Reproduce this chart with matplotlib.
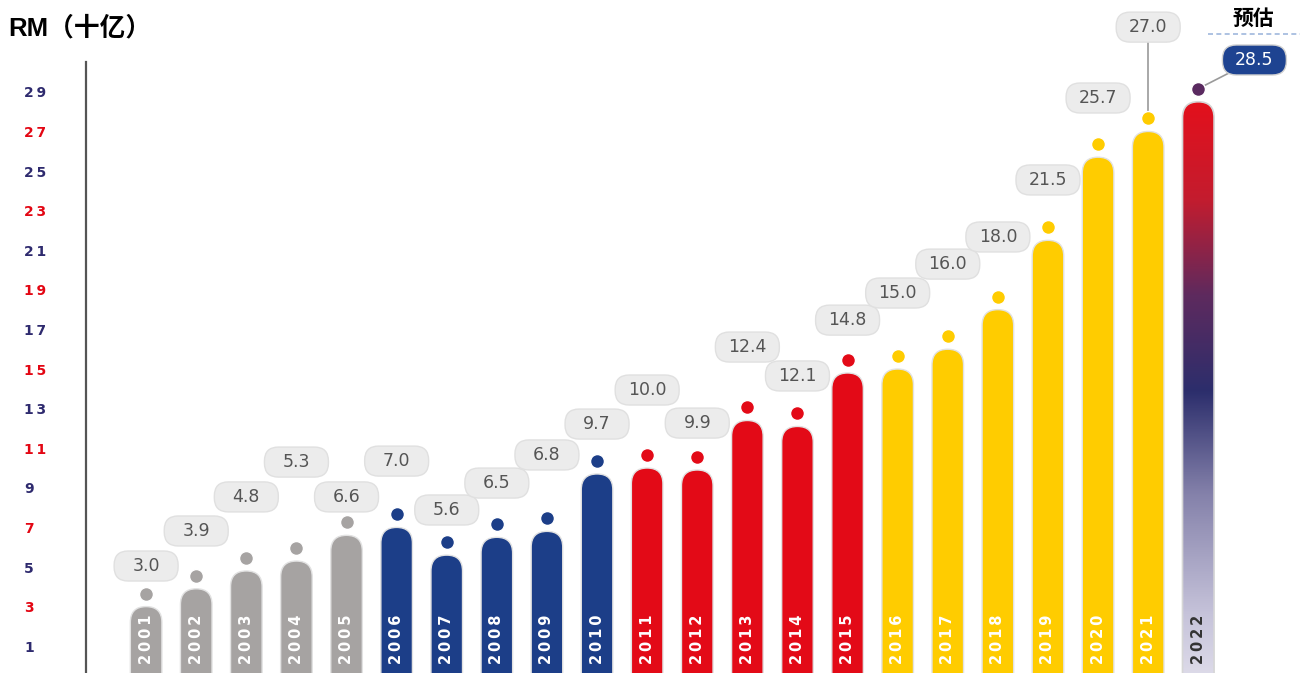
import numpy as np
import matplotlib.pyplot as plt
from matplotlib.patches import FancyBboxPatch
from matplotlib.colors import LinearSegmentedColormap

# data
years = ['2001', '2002', '2003', '2004', '2005', '2006', '2007', '2008', '2009', '2010', '2011',
         '2012', '2013', '2014', '2015', '2016', '2017', '2018', '2019', '2020', '2021', '2022']
values = [3.0, 3.9, 4.8, 5.3, 6.6, 7.0, 5.6, 6.5, 6.8, 9.7, 10.0,
          9.9, 12.4, 12.1, 14.8, 15.0, 16.0, 18.0, 21.5, 25.7, 27.0, 28.5]
groups = ['grey'] * 5 + ['navy'] * 5 + ['red'] * 5 + ['yellow'] * 6 + ['forecast']
yticks = list(range(1, 30, 2))

# layout: where each value label sits relative to its bar top
label_dy = [2.05, 2.92, 3.74, 5.0, 1.94, 3.35, 2.28, 2.74, 3.86, 2.52, 3.94,
            2.37, 3.71, 2.55, 2.67, 3.84, 4.30, 3.67, 3.05, 2.99, 5.27, 2.11]
label_dx = [0] * 21 + [1.12]
leader = [False] * 20 + [True, True]

colors = {'grey': '#a6a3a2', 'navy': '#1c3e88', 'red': '#e30a17',
          'yellow': '#ffcc00', 'forecast': '#5a2a60'}
NAVY = '#2e2a6e'
RED = '#e30613'

W, H = 1300, 673
fig = plt.figure(figsize=(W / 100, H / 100), dpi=100)
left_px = 86
ax = fig.add_axes([left_px / W, 0, 1 - left_px / W, 1])
xlim = (-1.2, 23.03)
ylim = (-0.354, 33.64)
px_x = (W - left_px) / (xlim[1] - xlim[0])
px_y = H / (ylim[1] - ylim[0])
asp = px_x / px_y

bw = 0.63
x = np.arange(len(years))

grad = LinearSegmentedColormap.from_list('fc', [
    (0.0, '#e8e6f0'), (0.15, '#c6c3da'), (0.35, '#8481aa'), (0.52, '#2c2e6c'),
    (0.68, '#5e2a5e'), (0.84, '#c41c2e'), (1.0, '#e3101c')])

for i, (yr, v, g) in enumerate(zip(years, values, groups)):
    if g == 'forecast':
        bar = FancyBboxPatch((x[i] - bw / 2, -2), bw, v + 2,
                             boxstyle=f'round,pad=0,rounding_size={bw / 2}',
                             mutation_aspect=asp, fc='none', ec='#d6d6d6', lw=1.2, zorder=2)
        ax.add_patch(bar)
        im = ax.imshow(np.linspace(0, 1, 256).reshape(-1, 1), cmap=grad, origin='lower',
                       extent=[x[i] - bw / 2, x[i] + bw / 2, -2, v], aspect='auto', zorder=1.5)
        im.set_clip_path(bar)
        ycol = '#333333'
    else:
        bar = FancyBboxPatch((x[i] - bw / 2, -2), bw, v + 2,
                             boxstyle=f'round,pad=0,rounding_size={bw / 2}',
                             mutation_aspect=asp, fc=colors[g], ec='#e2e2e2', lw=1, zorder=2)
        ax.add_patch(bar)
        ycol = 'white'
    ax.text(x[i], 0.1, '\u2009'.join(yr), rotation=90, ha='center', va='bottom',
            color=ycol, fontsize=10.5, fontweight='bold', zorder=3)

    dot_y = v + 0.66
    ax.scatter(x[i], dot_y, s=100, color=colors[g], edgecolor='white', linewidth=1, zorder=4)

    lx, ly = x[i] + label_dx[i], v + label_dy[i]
    if leader[i]:
        ax.plot([x[i], lx], [dot_y, ly], color='#9a9a9a', lw=1.2, zorder=2.5)
    lw_box, lh_box = 64 / px_x, 30 / px_y
    if g == 'forecast':
        fc, ec, tc = '#1e4391', '#d0d0d0', 'white'
    else:
        fc, ec, tc = '#ececec', '#e0e0e0', '#555555'
    box = FancyBboxPatch((lx - lw_box / 2, ly - lh_box / 2), lw_box, lh_box,
                         boxstyle=f'round,pad=0,rounding_size={14 / px_x}',
                         mutation_aspect=asp, fc=fc, ec=ec, lw=1, zorder=5, clip_on=False)
    ax.add_patch(box)
    ax.text(lx, ly, f'{v:.1f}', ha='center', va='center', color=tc, fontsize=12.5, zorder=6)

ax.set_xlim(*xlim)
ax.set_ylim(*ylim)
ax.set_xticks([])
ax.set_yticks(yticks)
ax.set_yticklabels(['\u2009'.join(str(t)) for t in yticks], fontsize=10, fontweight='bold')
ax.tick_params(axis='y', length=0, pad=(left_px - 24) * 0.72)
for t, lab in zip(yticks, ax.get_yticklabels()):
    lab.set_ha('left')
    lab.set_color(NAVY if ((t - 1) // 2) % 2 == 0 else RED)

for s in ['top', 'right', 'bottom']:
    ax.spines[s].set_visible(False)
ax.spines['left'].set_bounds(ylim[0], 30.5)
ax.spines['left'].set_color('#555555')
ax.spines['left'].set_linewidth(1.6)
ax.patch.set_alpha(0)

cjk = ['Noto Sans CJK SC', 'DejaVu Sans']
fig.text(8 / W, 1 - 28 / H, 'RM（十亿）', family=['Liberation Sans', 'Noto Sans CJK SC'],
         fontweight='bold', fontsize=18.5, ha='left', va='center')
fig.text(1253 / W, 1 - 18 / H, '预估', family=cjk, fontweight='bold', fontsize=15,
         ha='center', va='center')
fig.add_artist(plt.Line2D([1208 / W, 1.0], [1 - 34 / H, 1 - 34 / H], color='#9fb8dd',
                          lw=1.2, ls=(0, (3, 2))))

fig.savefig('out.png', dpi=100)
